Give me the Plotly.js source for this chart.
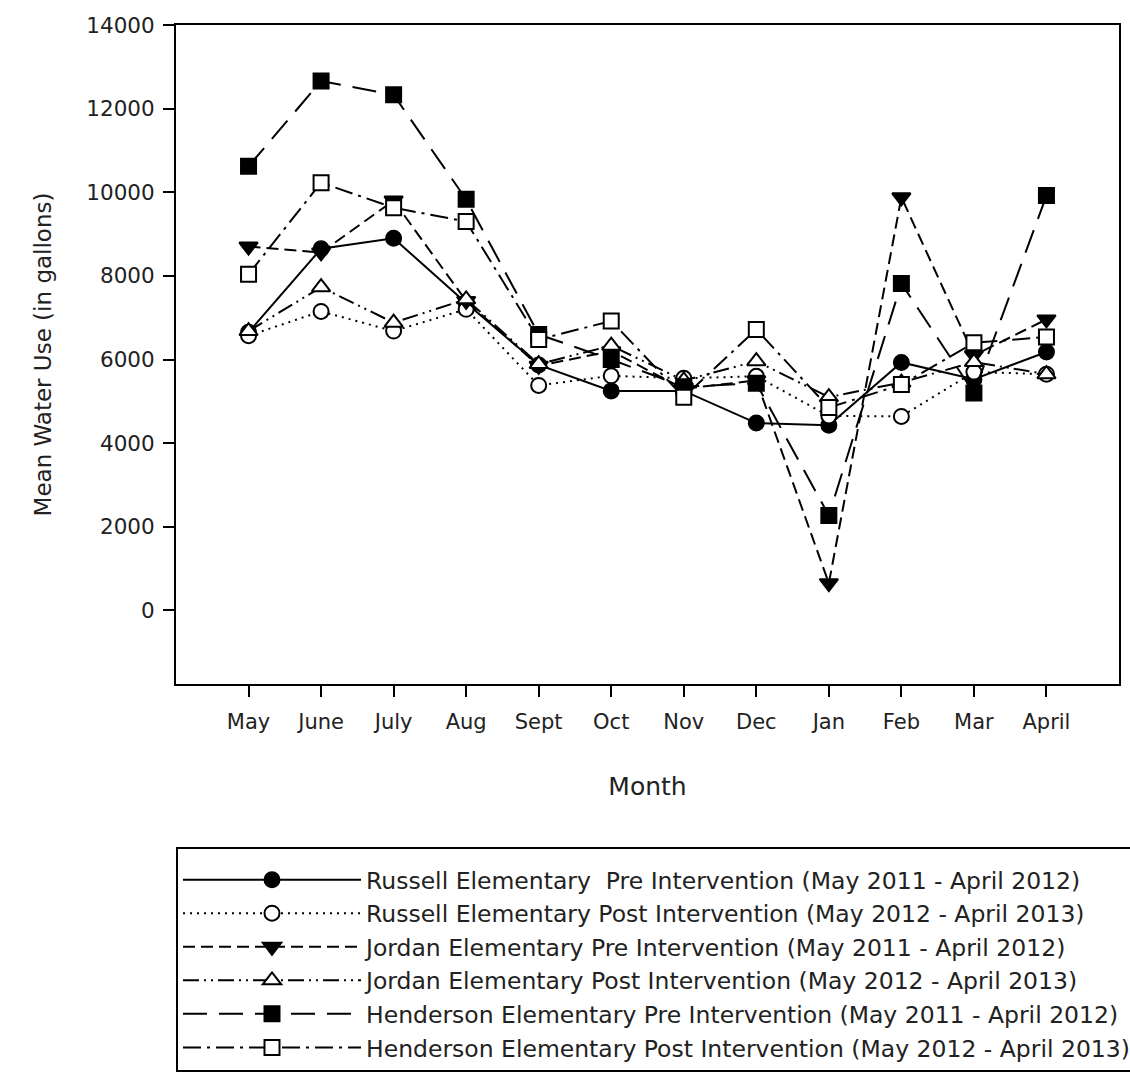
<!DOCTYPE html>
<html>
<head>
<meta charset="utf-8">
<script src="https://cdn.plot.ly/plotly-3.0.1.min.js"></script>
<style>
  html, body { margin: 0; padding: 0; background: #ffffff; }
  #chart { width: 1130px; height: 1072px; }
</style>
</head>
<body>
<div id="chart"></div>
<script>
const months = ["May", "June", "July", "Aug", "Sept", "Oct", "Nov", "Dec", "Jan", "Feb", "Mar", "April"];

const russellPre  = [6650, 8650, 8900, 7350, 5870, 5250, 5250, 4480, 4430, 5930, 5530, 6180];
const russellPost = [6570, 7150, 6680, 7200, 5380, 5610, 5550, 5600, 4650, 4640, 5700, 5650];
const jordanPre   = [8700, 8560, 9800, 7400, 5850, 6200, 5300, 5500, 650, 9880, 6100, 6960];
const jordanPost  = [6680, 7730, 6880, 7440, 5890, 6330, 5500, 5960, 5100, 5450, 5940, 5650];
const hendersonPre  = [10620, 12660, 12330, 9830, 6600, 6000, 5350, 5430, 2270, 7820, 5200, 9920];
const hendersonPost = [8040, 10230, 9630, 9300, 6480, 6920, 5100, 6720, 4850, 5400, 6400, 6540];

const seriesNames = [
  "Russell Elementary  Pre Intervention (May 2011 - April 2012)",
  "Russell Elementary Post Intervention (May 2012 - April 2013)",
  "Jordan Elementary Pre Intervention (May 2011 - April 2012)",
  "Jordan Elementary Post Intervention (May 2012 - April 2013)",
  "Henderson Elementary Pre Intervention (May 2011 - April 2012)",
  "Henderson Elementary Post Intervention (May 2012 - April 2013)"
];
const yTickVals = [0, 2000, 4000, 6000, 8000, 10000, 12000, 14000];
const yTickText = ["0", "2000", "4000", "6000", "8000", "10000", "12000", "14000"];

const xIdx = months.map((m, i) => i);

const styles = [
  {dash: "solid", symbol: "circle", fill: "#000000", size: 15},
  {dash: "2px,5px", symbol: "circle", fill: "#ffffff", size: 15},
  {dash: "12px,6px", symbol: "triangle-down", fill: "#000000", size: 16},
  {dash: "16px,5px,2px,5px,2px,5px", symbol: "triangle-up", fill: "#ffffff", size: 16},
  {dash: "24px,12px", symbol: "square", fill: "#000000", size: 15},
  {dash: "18px,6px,3px,6px", symbol: "square", fill: "#ffffff", size: 15}
];
const data = [russellPre, russellPost, jordanPre, jordanPost, hendersonPre, hendersonPost];

const traces = data.map((vals, k) => ({
  type: "scatter",
  mode: "lines+markers",
  x: xIdx,
  y: vals,
  name: seriesNames[k],
  line: {color: "#000000", width: 2, dash: styles[k].dash},
  marker: {
    symbol: styles[k].symbol,
    size: styles[k].size,
    color: styles[k].fill,
    line: {color: "#000000", width: 2}
  }
}));

const FONT = "DejaVu Sans, Verdana, sans-serif";

const layout = {
  width: 1130,
  height: 1072,
  margin: {l: 176, r: 11, t: 25, b: 388, autoexpand: false},
  paper_bgcolor: "#ffffff",
  plot_bgcolor: "#ffffff",
  font: {family: FONT, color: "#222222", size: 20},
  showlegend: true,
  xaxis: {
    range: [-1, 12],
    tickmode: "array",
    tickvals: xIdx,
    ticktext: months,
    ticks: "outside",
    ticklen: 11,
    tickwidth: 2,
    tickcolor: "#000000",
    showline: true,
    linecolor: "#000000",
    linewidth: 2,
    mirror: true,
    showgrid: false,
    zeroline: false,
    ticklabelstandoff: 7,
    tickfont: {family: FONT, size: 21, color: "#222222"},
    title: {text: "Month", font: {family: FONT, size: 25, color: "#222222"}, standoff: 44}
  },
  yaxis: {
    range: [-1760, 14000],
    tickmode: "array",
    tickvals: yTickVals,
    ticktext: yTickText,
    ticks: "outside",
    ticklen: 11,
    tickwidth: 2,
    tickcolor: "#000000",
    showline: true,
    linecolor: "#000000",
    linewidth: 2,
    mirror: true,
    showgrid: false,
    zeroline: false,
    ticklabelstandoff: 4,
    tickfont: {family: FONT, size: 21.5, color: "#222222"},
    title: {text: "Mean Water Use (in gallons)", font: {family: FONT, size: 23, color: "#222222"}, standoff: 28}
  },
  legend: {
    x: 0,
    xanchor: "left",
    y: -0.247,
    yanchor: "top",
    bgcolor: "#ffffff",
    bordercolor: "#000000",
    borderwidth: 2,
    itemwidth: 178,
    tracegroupgap: 0,
    title: {text: "\u00a0", font: {family: FONT, size: 7}},
    font: {family: FONT, size: 23.5, color: "#222222"}
  }
};

Plotly.newPlot("chart", traces, layout, {displayModeBar: false, staticPlot: true});
</script>
</body>
</html>
